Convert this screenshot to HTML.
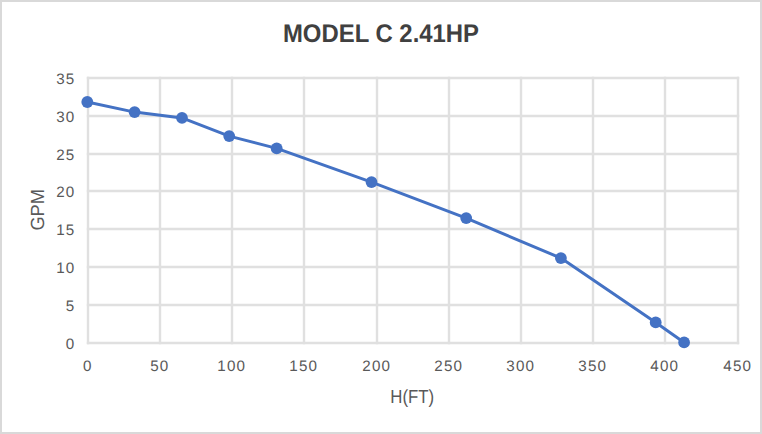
<!DOCTYPE html>
<html><head><meta charset="utf-8"><style>
html,body{margin:0;padding:0;background:#fff;}
body{width:762px;height:434px;overflow:hidden;position:relative;}
svg{position:absolute;left:0;top:0;}
text{font-family:"Liberation Sans",sans-serif;text-rendering:geometricPrecision;}
</style></head><body>
<svg width="762" height="434" viewBox="0 0 762 434">
<rect x="1" y="1" width="760" height="432" fill="#fff" stroke="#d9d9d9" stroke-width="2"/>
<text transform="translate(381,41.6) scale(0.937,1)" text-anchor="middle" font-size="25.5" font-weight="bold" fill="#404040">MODEL C 2.41HP</text>
<g stroke="#e0e0e0" stroke-width="2.4" fill="none">
<line x1="88" y1="76.8" x2="88" y2="344.2"/>
<line x1="160" y1="76.8" x2="160" y2="344.2"/>
<line x1="232" y1="76.8" x2="232" y2="344.2"/>
<line x1="304" y1="76.8" x2="304" y2="344.2"/>
<line x1="377" y1="76.8" x2="377" y2="344.2"/>
<line x1="449" y1="76.8" x2="449" y2="344.2"/>
<line x1="521" y1="76.8" x2="521" y2="344.2"/>
<line x1="593" y1="76.8" x2="593" y2="344.2"/>
<line x1="665" y1="76.8" x2="665" y2="344.2"/>
<line x1="738" y1="76.8" x2="738" y2="344.2"/>
<line x1="86.8" y1="343" x2="739.2" y2="343"/>
<line x1="86.8" y1="305" x2="739.2" y2="305"/>
<line x1="86.8" y1="267" x2="739.2" y2="267"/>
<line x1="86.8" y1="229" x2="739.2" y2="229"/>
<line x1="86.8" y1="191" x2="739.2" y2="191"/>
<line x1="86.8" y1="154" x2="739.2" y2="154"/>
<line x1="86.8" y1="116" x2="739.2" y2="116"/>
<line x1="86.8" y1="78" x2="739.2" y2="78"/>
</g>
<g font-size="15.2" fill="#595959" letter-spacing="1.2">
<text transform="translate(75.50,348.60) scale(1.0,1)" text-anchor="end">0</text>
<text transform="translate(75.50,310.60) scale(1.0,1)" text-anchor="end">5</text>
<text transform="translate(75.50,272.60) scale(1.0,1)" text-anchor="end">10</text>
<text transform="translate(75.50,234.60) scale(1.0,1)" text-anchor="end">15</text>
<text transform="translate(75.50,196.60) scale(1.0,1)" text-anchor="end">20</text>
<text transform="translate(75.50,159.60) scale(1.0,1)" text-anchor="end">25</text>
<text transform="translate(75.50,121.60) scale(1.0,1)" text-anchor="end">30</text>
<text transform="translate(75.50,83.60) scale(1.0,1)" text-anchor="end">35</text>
<text transform="translate(87.80,371.00) scale(1.0,1)" text-anchor="middle">0</text>
<text transform="translate(159.80,371.00) scale(1.0,1)" text-anchor="middle">50</text>
<text transform="translate(231.80,371.00) scale(1.0,1)" text-anchor="middle">100</text>
<text transform="translate(303.80,371.00) scale(1.0,1)" text-anchor="middle">150</text>
<text transform="translate(376.80,371.00) scale(1.0,1)" text-anchor="middle">200</text>
<text transform="translate(448.80,371.00) scale(1.0,1)" text-anchor="middle">250</text>
<text transform="translate(520.80,371.00) scale(1.0,1)" text-anchor="middle">300</text>
<text transform="translate(592.80,371.00) scale(1.0,1)" text-anchor="middle">350</text>
<text transform="translate(664.80,371.00) scale(1.0,1)" text-anchor="middle">400</text>
<text transform="translate(737.80,371.00) scale(1.0,1)" text-anchor="middle">450</text>
</g>
<text transform="translate(44,209.8) rotate(-90) scale(0.96,1)" text-anchor="middle" font-size="19" fill="#595959">GPM</text>
<text transform="translate(412.2,402.6) scale(0.885,1)" text-anchor="middle" font-size="19" fill="#595959">H(FT)</text>
<polyline points="87.3,102.0 134.6,112.1 182.0,117.9 229.2,136.1 276.7,148.4 371.5,182.1 466.2,218.1 560.9,258.1 655.7,322.4 684.1,342.4" fill="none" stroke="#4472c4" stroke-width="3.0" stroke-linejoin="round"/>
<g fill="#4472c4">
<circle cx="87.3" cy="102.0" r="5.9"/>
<circle cx="134.6" cy="112.1" r="5.9"/>
<circle cx="182.0" cy="117.9" r="5.9"/>
<circle cx="229.2" cy="136.1" r="5.9"/>
<circle cx="276.7" cy="148.4" r="5.9"/>
<circle cx="371.5" cy="182.1" r="5.9"/>
<circle cx="466.2" cy="218.1" r="5.9"/>
<circle cx="560.9" cy="258.1" r="5.9"/>
<circle cx="655.7" cy="322.4" r="5.9"/>
<circle cx="684.1" cy="342.4" r="5.9"/>
</g>
</svg>
</body></html>
